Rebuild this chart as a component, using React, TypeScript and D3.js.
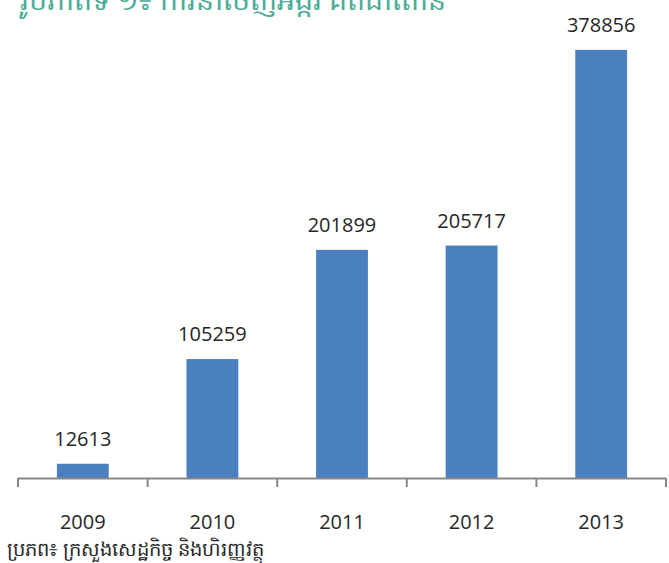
import React from "react";
import * as d3 from "d3";

const years = ["2009", "2010", "2011", "2012", "2013"];
const exportsTons = [12613, 105259, 201899, 205717, 378856];
const titleText = "រូបភាពទី ១៖ ការនាំចេញអង្ករ គិតជាតោន";
const sourceText = "ប្រភព៖ ក្រសួងសេដ្ឋកិច្ច និងហិរញ្ញវត្ថុ";

const width = 669;
const height = 563;

const App = () => {
	const x = d3.scaleBand<string>()
		.domain(years)
		.range([18, 666])
		.paddingInner(0.6)
		.paddingOuter(0.3);
	const xAxisBand = d3.scaleBand<string>().domain(years).range([18, 666]);
	const y = d3.scaleLinear().domain([0, 400000]).range([478, 26]);

	const font = "'Open Sans', 'Noto Sans', 'Liberation Sans', sans-serif";

	return (
		<svg width={width} height={height}
			style={{ position: "absolute", left: 0, top: 0 }}>
			<rect width={width} height={height} fill="#ffffff" />
			<text x={20} y={10} fill="#4bac98" fontSize={28.5} fontFamily={font}>{titleText}</text>

			{/* bars */}
			{years.map((yr, i) => (
				<rect key={yr} x={x(yr)} y={y(exportsTons[i])}
					width={x.bandwidth()} height={y(0) - y(exportsTons[i])}
					fill="#4a80bf" />
			))}

			{/* value labels */}
			{years.map((yr, i) => (
				<text key={"v" + yr} x={x(yr)! + x.bandwidth() / 2} y={y(exportsTons[i]) - 18}
					textAnchor="middle" fontSize={20} fill="#262626" fontFamily={font}>
					{exportsTons[i]}
				</text>
			))}

			{/* axis */}
			<line x1={18} x2={666} y1={478.5} y2={478.5} stroke="#878787" strokeWidth={2} />
			{[...years.map(yr => xAxisBand(yr)!), 666].map((t, i) => (
				<line key={"t" + i} x1={t} x2={t} y1={478} y2={487} stroke="#878787" strokeWidth={2} />
			))}
			{years.map(yr => (
				<text key={"l" + yr} x={x(yr)! + x.bandwidth() / 2} y={529}
					textAnchor="middle" fontSize={20} fill="#262626" fontFamily={font}>{yr}</text>
			))}

			<text x={7} y={556} fontSize={19.5} fill="#262626" fontFamily={font}>{sourceText}</text>
		</svg>
	);
};

export default App;
